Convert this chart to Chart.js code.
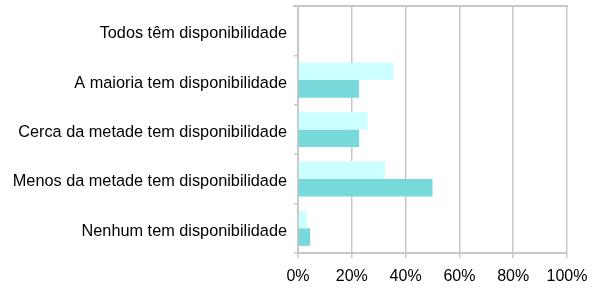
<!DOCTYPE html>
<html><head><meta charset="utf-8">
<script src="https://cdn.jsdelivr.net/npm/chart.js@4"></script>
<style>html,body{margin:0;padding:0;background:#fff}#wrap{width:597px;height:289px}</style>
</head><body><div id="wrap"><canvas id="c"></canvas></div>
<script>
const categories = ["Todos têm disponibilidade","A maioria tem disponibilidade","Cerca da metade tem disponibilidade","Menos da metade tem disponibilidade","Nenhum tem disponibilidade"];
const seriesLight = [0, 35.5, 25.8, 32.3, 3.2];
const seriesDark = [0, 22.7, 22.7, 50.0, 4.5];
const xTicks = [0, 20, 40, 60, 80, 100];

const topBorder = {
  id: 'topBorder',
  afterDraw(chart) {
    const {ctx, chartArea} = chart;
    const y = chart.scales.y;
    ctx.save();
    ctx.strokeStyle = '#c8c8c8';
    ctx.lineWidth = 2;
    ctx.beginPath();
    ctx.moveTo(y.right - 5, chartArea.top);
    ctx.lineTo(chartArea.right + 1, chartArea.top);
    ctx.stroke();
    ctx.restore();
  }
};

new Chart(document.getElementById('c'), {
  type: 'bar',
  data: {
    labels: categories,
    datasets: [
      {label: 'A', data: seriesLight, backgroundColor: '#ccffff', categoryPercentage: 0.71, barPercentage: 1.0},
      {label: 'B', data: seriesDark, backgroundColor: '#77d9d9', categoryPercentage: 0.71, barPercentage: 1.0}
    ]
  },
  plugins: [topBorder],
  options: {
    indexAxis: 'y',
    responsive: true,
    maintainAspectRatio: false,
    animation: false,
    layout: {padding: {top: 6, right: 30, left: 0, bottom: 0}},
    plugins: {legend: {display: false}, tooltip: {enabled: false}},
    scales: {
      x: {
        min: 0, max: 100,
        afterBuildTicks: s => { s.ticks = xTicks.map(v => ({value: v})); },
        afterFit: s => { s.height = 36; s.paddingLeft = 0; s.paddingRight = 0; },
        grid: {color: '#c8c8c8', lineWidth: 1.5, tickLength: 5, drawTicks: true},
        border: {color: '#c8c8c8', width: 2},
        ticks: {color: '#000', font: {family: 'Liberation Sans', size: 16}, padding: 9, callback: v => v + '%'}
      },
      y: {
        afterFit: s => { s.width = 298; s.paddingTop = 0; s.paddingBottom = 0; },
        grid: {drawOnChartArea: false, color: '#c8c8c8', lineWidth: 1.5, tickLength: 4, offset: true},
        border: {color: '#c8c8c8', width: 2},
        ticks: {color: '#000', font: {family: 'Liberation Sans', size: 16.3}, padding: 7, labelOffset: 3}
      }
    }
  }
});
</script></body></html>
